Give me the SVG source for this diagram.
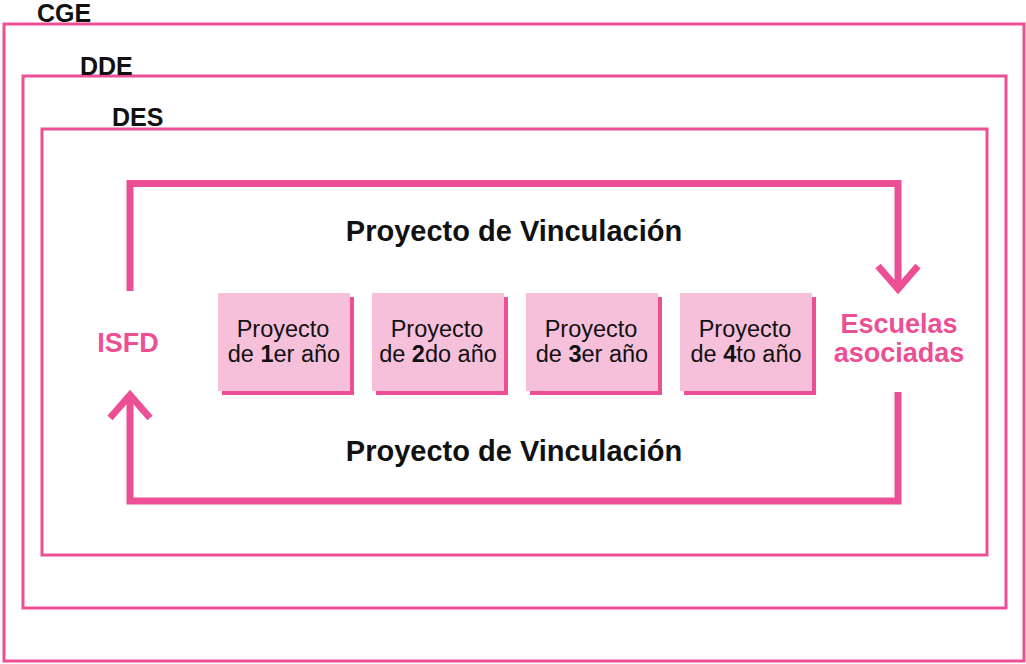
<svg xmlns="http://www.w3.org/2000/svg" width="1026" height="664" viewBox="0 0 1026 664">
<defs>
<style>
.frame{fill:none;stroke:#EC4F94;stroke-width:3}
.lbl{font-family:"Liberation Sans",Arial,sans-serif;font-weight:bold;font-size:25px;fill:#111}
.loop{fill:none;stroke:#EC4F94;stroke-width:7;stroke-linejoin:miter;stroke-linecap:butt}
.title{font-family:"Liberation Sans",Arial,sans-serif;font-weight:bold;font-size:29px;fill:#111;text-anchor:middle}
.end{font-family:"Liberation Sans",Arial,sans-serif;font-weight:bold;font-size:27px;fill:#EC4F94;text-anchor:middle}
.box{fill:#F6C0DA}
.shadow{fill:#EC4F94}
.bt{font-family:"Liberation Sans",Arial,sans-serif;font-size:23.5px;fill:#111;text-anchor:middle}
.b{font-weight:bold}
</style>
</defs>
<rect width="1026" height="664" fill="#fff"/>
<g id="cge"><rect class="frame" x="4" y="24" width="1020" height="637"/><text class="lbl" x="37" y="22">CGE</text></g>
<g id="dde"><rect class="frame" x="23" y="76" width="983" height="532"/><text class="lbl" x="80" y="75">DDE</text></g>
<g id="des"><rect class="frame" x="42" y="129" width="945" height="426"/><text class="lbl" x="112" y="126">DES</text></g>
<g id="connectors">
<polyline class="loop" points="130,291 130,183.5 898,183.5 898,289"/>
<polyline class="loop" points="878,266 898,289 918,266"/>
<polyline class="loop" points="898,392 898,501 130,501 130,394"/>
<polyline class="loop" points="110,418 130,395 150,418"/>
<text class="title" x="514" y="241">Proyecto de Vinculación</text>
<text class="title" x="514" y="461">Proyecto de Vinculación</text>
</g>
<g id="isfd"><text class="end" x="128" y="352">ISFD</text></g>
<g id="escuelas"><text class="end" x="899" y="333">Escuelas</text><text class="end" x="899" y="362">asociadas</text></g>
<g id="p1"><rect class="shadow" x="222" y="297" width="132" height="98"/><rect class="box" x="218" y="293" width="132" height="98"/><text class="bt" x="283" y="337">Proyecto</text><text class="bt" x="284" y="362">de <tspan class="b">1</tspan>er año</text></g>
<g id="p2"><rect class="shadow" x="376" y="297" width="132" height="98"/><rect class="box" x="372" y="293" width="132" height="98"/><text class="bt" x="437" y="337">Proyecto</text><text class="bt" x="438" y="362">de <tspan class="b">2</tspan>do año</text></g>
<g id="p3"><rect class="shadow" x="530" y="297" width="132" height="98"/><rect class="box" x="526" y="293" width="132" height="98"/><text class="bt" x="591" y="337">Proyecto</text><text class="bt" x="592" y="362">de <tspan class="b">3</tspan>er año</text></g>
<g id="p4"><rect class="shadow" x="684" y="297" width="132" height="98"/><rect class="box" x="680" y="293" width="132" height="98"/><text class="bt" x="745" y="337">Proyecto</text><text class="bt" x="746" y="362">de <tspan class="b">4</tspan>to año</text></g>
</svg>
